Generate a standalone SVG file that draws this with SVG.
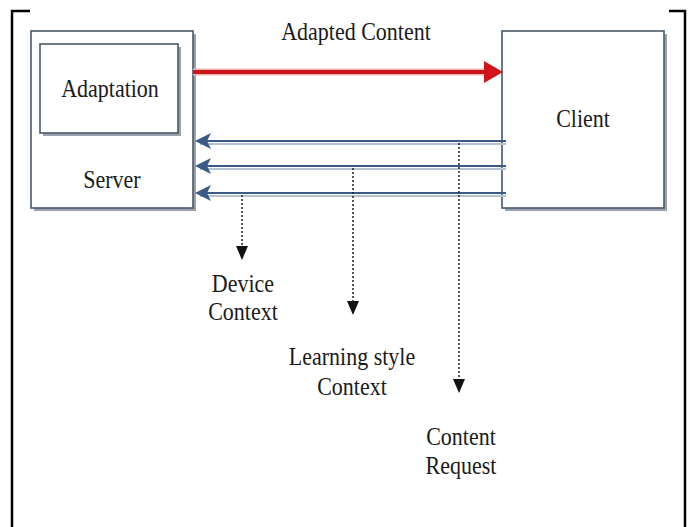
<svg xmlns="http://www.w3.org/2000/svg" width="690" height="527" viewBox="0 0 690 527">
<style>
.t{font-family:"Liberation Serif","Times New Roman",serif;font-size:22px;fill:#1a1a1a;text-anchor:middle}
.box{fill:#fff;stroke:#4a5868;stroke-width:1.6}
.sh{fill:#9aa3ad}
.blue{stroke:#3b5b84;stroke-width:2;fill:none}
.blsh{stroke:#b5c2d0;stroke-width:2;fill:none}
.dot{stroke:#222;stroke-width:1.5;stroke-dasharray:2 2;fill:none}
.frame{stroke:#000;stroke-width:2.5;fill:none}
.ah{fill:#111}
.bh{fill:#3b5b84}
</style>
<rect width="690" height="527" fill="#fff"/>
<g id="frame">
<path class="frame" d="M30,11 H12 V527"/>
<path class="frame" d="M669,11 H685 V527"/>
</g>
<g id="server">
<rect class="sh" x="34" y="34" width="162" height="177"/>
<rect class="box" x="31" y="31" width="162" height="177"/>
<text class="t" transform="translate(112,188) scale(1,1.12)">Server</text>
</g>
<g id="adaptation">
<rect class="sh" x="43" y="47" width="138" height="89"/>
<rect class="box" x="40" y="44" width="138" height="89"/>
<text class="t" transform="translate(110,97) scale(1,1.12)">Adaptation</text>
</g>
<g id="client">
<rect class="sh" x="505" y="34" width="162" height="177"/>
<rect class="box" x="502" y="31" width="162" height="177"/>
<text class="t" transform="translate(583,127) scale(1,1.12)">Client</text>
</g>
<g id="connectors">
<line x1="193" y1="72" x2="488" y2="72" stroke="#f0b0b0" stroke-width="7"/>
<line x1="193" y1="72" x2="488" y2="72" stroke="#c8141c" stroke-width="4"/>
<path d="M484,61 L503,72 L484,83 Z" fill="#d0141c"/>
<line class="blsh" x1="200" y1="144" x2="506" y2="144"/>
<line class="blue" x1="200" y1="141" x2="506" y2="141"/>
<path class="bh" d="M195,141 L211,133 L207,141 L211,149 Z"/>
<line class="blsh" x1="200" y1="169" x2="506" y2="169"/>
<line class="blue" x1="200" y1="166" x2="506" y2="166"/>
<path class="bh" d="M195,166 L211,158 L207,166 L211,174 Z"/>
<line class="blsh" x1="200" y1="196" x2="506" y2="196"/>
<line class="blue" x1="200" y1="193" x2="506" y2="193"/>
<path class="bh" d="M195,193 L211,185 L207,193 L211,201 Z"/>
<line class="dot" x1="242" y1="195" x2="242" y2="248"/>
<path class="ah" d="M236,246 L248,246 L242,260 Z"/>
<line class="dot" x1="353" y1="168" x2="353" y2="303"/>
<path class="ah" d="M347,301 L359,301 L353,315 Z"/>
<line class="dot" x1="459" y1="143" x2="459" y2="381"/>
<path class="ah" d="M453,379 L465,379 L459,393 Z"/>
</g>
<g id="labels">
<text class="t" transform="translate(356,40) scale(1,1.12)">Adapted Content</text>
<text class="t" transform="translate(243,292) scale(1,1.12)">Device</text>
<text class="t" transform="translate(243,320) scale(1,1.12)">Context</text>
<text class="t" transform="translate(352,365) scale(1,1.12)">Learning style</text>
<text class="t" transform="translate(352,395) scale(1,1.12)">Context</text>
<text class="t" transform="translate(461,445) scale(1,1.12)">Content</text>
<text class="t" transform="translate(461,474) scale(1,1.12)">Request</text>
</g>
</svg>
